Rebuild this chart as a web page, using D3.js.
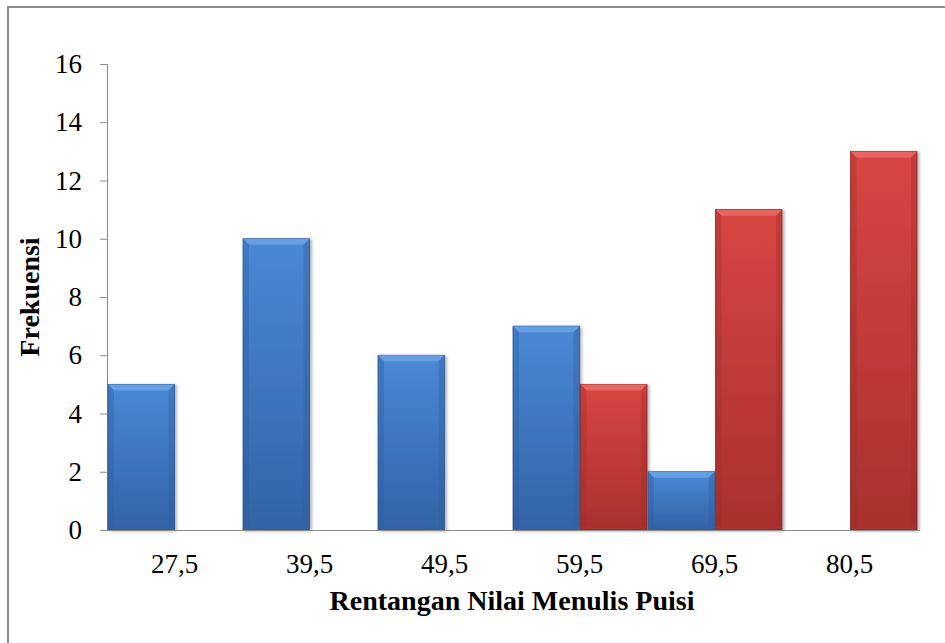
<!DOCTYPE html>
<html>
<head>
<meta charset="utf-8">
<script src="https://cdn.jsdelivr.net/npm/d3@7"></script>
<style>
  body { margin: 0; background: #fff; }
  svg { display: block; }
  .axis path, .axis line { stroke: #8c8c8c; }
</style>
</head>
<body>
<svg id="chart" width="945" height="643"></svg>
<script>
var categories = ["27,5", "39,5", "49,5", "59,5", "69,5", "80,5"];
var seriesKeys = ["blue", "red"];
var blueValues = [5, 10, 6, 7, 2, 0];
var redValues = [0, 0, 0, 5, 11, 13];
var yTicks = [0, 2, 4, 6, 8, 10, 12, 14, 16];

var data = categories.map(function(c, i) {
  return {cat: c, blue: blueValues[i], red: redValues[i]};
});

var serif = "'Liberation Serif', 'Times New Roman', 'DejaVu Serif', serif";

var svg = d3.select("#chart"),
    margin = {top: 64, right: 28, bottom: 113, left: 107},
    width = 945 - margin.left - margin.right,
    height = 643 - margin.top - margin.bottom;

// outer frame (only top/left edges visible in the window)
svg.append("rect")
    .attr("x", 8).attr("y", 7)
    .attr("width", 1000).attr("height", 1000)
    .attr("fill", "none")
    .attr("stroke", "#8c8c8c")
    .attr("stroke-width", 2);

var defs = svg.append("defs");
var palette = {
  blue: {top: "#4a88d6", bottom: "#3363a6", bevel: "#6ba3e6", side: "#2f5c9c", edge: "#2a5590"},
  red: {top: "#d84643", bottom: "#a8302e", bevel: "#ec6a66", side: "#9c2c2a", edge: "#8a2624"}
};
seriesKeys.forEach(function(k) {
  var gr = defs.append("linearGradient").attr("id", "grad-" + k)
      .attr("x1", 0).attr("y1", 0).attr("x2", 0).attr("y2", 1);
  gr.append("stop").attr("offset", "0%").attr("stop-color", palette[k].top);
  gr.append("stop").attr("offset", "100%").attr("stop-color", palette[k].bottom);
});
var shadow = defs.append("filter").attr("id", "shadow")
    .attr("x", "-10%").attr("y", "-10%").attr("width", "130%").attr("height", "120%");
shadow.append("feDropShadow").attr("dx", 2).attr("dy", 1).attr("stdDeviation", 1.5)
    .attr("flood-color", "#000").attr("flood-opacity", 0.3);

var g = svg.append("g").attr("transform", "translate(" + margin.left + "," + margin.top + ")");

var x = d3.scaleBand().domain(categories).range([0, width]).padding(0);
var x1 = d3.scaleBand().domain(seriesKeys).range([0, x.bandwidth()]).padding(0);
var y = d3.scaleLinear().domain([0, 16]).range([height, 0]);

// y axis
var yAxis = g.append("g")
    .attr("class", "axis axis--y")
    .call(d3.axisLeft(y).tickValues(yTicks).tickSize(7).tickPadding(18).tickSizeOuter(0));
yAxis.select(".domain").attr("d", "M-7,0.5H0.5V" + height);
yAxis.selectAll("text")
    .style("font-family", serif)
    .style("font-size", "27px")
    .style("fill", "#000");

// bars
var bars = [];
data.forEach(function(d) {
  seriesKeys.forEach(function(k) {
    if (d[k] > 0) bars.push({cat: d.cat, key: k, value: d[k]});
  });
});

var bar = g.selectAll(".bar")
  .data(bars)
  .enter().append("g")
    .attr("class", "bar")
    .attr("filter", "url(#shadow)");

var bev = 6;
bar.append("rect")
    .attr("x", function(d) { return x(d.cat) + x1(d.key) + 1; })
    .attr("y", function(d) { return y(d.value); })
    .attr("width", x1.bandwidth() - 1)
    .attr("height", function(d) { return height - y(d.value); })
    .attr("fill", function(d) { return "url(#grad-" + d.key + ")"; })
    .attr("stroke", function(d) { return palette[d.key].edge; })
    .attr("stroke-width", 0.8);

// top bevel
bar.append("path")
    .attr("fill", function(d) { return palette[d.key].bevel; })
    .attr("opacity", 0.85)
    .attr("d", function(d) {
      var x0 = x(d.cat) + x1(d.key) + 1, x2 = x0 + x1.bandwidth() - 1, y0 = y(d.value);
      return "M" + x0 + "," + y0 + "H" + x2 + "L" + (x2 - bev) + "," + (y0 + bev) +
             "H" + (x0 + bev) + "Z";
    });
// side bevels
bar.append("path")
    .attr("fill", function(d) { return palette[d.key].side; })
    .attr("opacity", 0.35)
    .attr("d", function(d) {
      var x0 = x(d.cat) + x1(d.key) + 1, x2 = x0 + x1.bandwidth() - 1, y0 = y(d.value), yb = height;
      return "M" + x0 + "," + y0 + "L" + (x0 + bev) + "," + (y0 + bev) + "V" + (yb - 3) + "H" + x0 + "Z" +
             "M" + x2 + "," + y0 + "L" + (x2 - bev) + "," + (y0 + bev) + "V" + (yb - 3) + "H" + x2 + "Z";
    });

// x axis
var xAxis = g.append("g")
    .attr("class", "axis axis--x")
    .attr("transform", "translate(0," + height + ")")
    .call(d3.axisBottom(x).tickSize(0).tickPadding(24));
xAxis.select(".domain").attr("d", "M-7,0.5H" + (width + 3));
xAxis.selectAll("text")
    .style("font-family", serif)
    .style("font-size", "27px")
    .style("fill", "#000");

// axis titles
g.append("text")
    .attr("x", width / 2)
    .attr("y", height + 80)
    .attr("text-anchor", "middle")
    .style("font-family", serif)
    .style("font-weight", "bold")
    .style("font-size", "28px")
    .text("Rentangan Nilai Menulis Puisi");

g.append("text")
    .attr("transform", "translate(" + (-68) + "," + (height / 2) + ") rotate(-90)")
    .attr("text-anchor", "middle")
    .style("font-family", serif)
    .style("font-weight", "bold")
    .style("font-size", "28px")
    .text("Frekuensi");
</script>
</body>
</html>
